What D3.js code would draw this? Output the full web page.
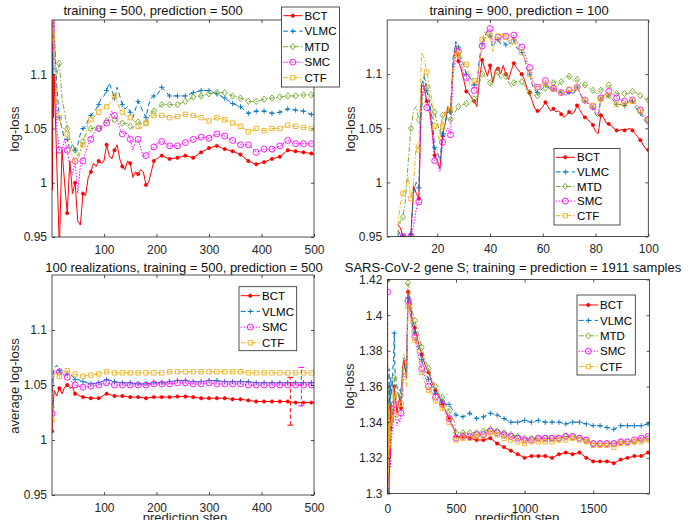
<!DOCTYPE html>
<html>
<head>
<meta charset="utf-8">
<script src="https://cdn.jsdelivr.net/npm/d3@7"></script>
<style>
body { margin: 0; background: #fff; }
svg { font-family: "Liberation Sans", Arial, Helvetica, sans-serif; }
</style>
</head>
<body>
<svg id="fig" width="694" height="520"></svg>
<script>
// ---- series styles ----
var seriesNames = ["BCT", "VLMC", "MTD", "SMC", "CTF"];
var seriesColors = ["#ff0000", "#0072bd", "#77ac30", "#ff00ff", "#edb120"];
var seriesDash = [null, "5,3", "5,2,1.5,2", "1.5,1.5", "5,2,1.5,2"];
var seriesMarker = ["dot", "plus", "diamond", "circle", "square"];

// ---- panel 1 : training = 500, prediction = 500 ----
var p1Steps = [1,2,3,4,5,10,15,20,25,30,35,40,45,50,55,60,65,70,75,80,85,90,95,100,105,110,115,120,125,130,135,140,145,150,155,160,165,170,175,180,185,190,195,200,
  210,225,240,255,270,285,300,315,330,345,360,375,390,405,420,435,450,465,480,495,500];
var p1BCT = [1.16,0.993,1.16,1.06,1.10, 1.02,0.94,1.03,1.00,0.972,1.02,0.99,1.0,0.965,0.961,0.99,0.988,1.005,1.01,1.018,1.015,1.02,1.018,1.02,1.035,1.025,1.022,1.03,1.035,1.022,1.015,1.012,1.02,1.018,1.005,1.01,1.008,1.012,1.01,0.998,1.0,1.01,1.02,1.022,
  1.025,1.022,1.023,1.025,1.023,1.028,1.032,1.034,1.031,1.029,1.026,1.02,1.017,1.019,1.022,1.024,1.03,1.029,1.028,1.027,1.026];
var p1VLMC = [1.16,1.10,1.16,1.12,1.14, 1.09,1.06,1.05,1.04,1.04,1.03,1.035,1.03,1.035,1.045,1.05,1.052,1.058,1.062,1.065,1.068,1.072,1.078,1.08,1.085,1.092,1.085,1.078,1.088,1.08,1.072,1.068,1.07,1.065,1.06,1.068,1.075,1.07,1.065,1.06,1.072,1.078,1.08,1.08,
  1.088,1.08,1.08,1.08,1.083,1.085,1.085,1.082,1.078,1.073,1.07,1.064,1.066,1.066,1.064,1.065,1.068,1.067,1.066,1.063,1.062];
var p1MTD = [1.137,1.16,1.12,1.15,1.10, 1.10,1.11,1.078,1.065,1.05,1.04,1.035,1.03,1.025,1.03,1.038,1.045,1.048,1.05,1.05,1.052,1.05,1.052,1.055,1.057,1.058,1.056,1.058,1.06,1.057,1.055,1.054,1.055,1.052,1.05,1.054,1.056,1.055,1.053,1.055,1.06,1.065,1.066,1.068,
  1.072,1.072,1.072,1.075,1.079,1.08,1.082,1.083,1.083,1.08,1.078,1.075,1.075,1.077,1.078,1.079,1.08,1.08,1.081,1.081,1.08];
var p1SMC = [1.16,1.12,1.16,1.13,1.15, 1.05,1.03,1.03,1.04,1.03,1.015,1.007,1.02,0.99,1.015,1.02,1.028,1.035,1.04,1.045,1.05,1.05,1.05,1.053,1.055,1.06,1.066,1.062,1.058,1.05,1.045,1.046,1.045,1.04,1.03,1.038,1.04,1.032,1.024,1.025,1.028,1.03,1.033,1.036,
  1.038,1.034,1.034,1.037,1.04,1.042,1.041,1.045,1.043,1.039,1.035,1.035,1.028,1.031,1.031,1.034,1.039,1.036,1.036,1.036,1.036];
var p1CTF = [1.16,1.13,1.16,1.10,1.14, 1.07,1.06,1.05,1.05,1.045,1.03,1.025,1.02,1.02,1.028,1.035,1.045,1.055,1.058,1.06,1.063,1.065,1.068,1.07,1.07,1.073,1.075,1.08,1.075,1.068,1.065,1.062,1.06,1.06,1.058,1.055,1.052,1.05,1.052,1.055,1.06,1.061,1.062,1.062,
  1.062,1.06,1.061,1.063,1.062,1.06,1.057,1.06,1.058,1.055,1.052,1.047,1.05,1.048,1.05,1.05,1.053,1.052,1.051,1.05,1.05];

// ---- panel 2 : training = 900, prediction = 100 (steps 5..100) ----
var p2Steps = d3.range(5, 101);
var p2BCT = [0.961,0.958,0.95,0.945,0.945,0.952,0.997,0.99,0.985,1.09,
  1.088,1.075,1.07,1.05,1.025,1.02,1.013,1.043,1.055,1.07,
  1.065,1.11,1.127,1.112,1.105,1.095,1.084,1.082,1.078,1.075,
  1.07,1.095,1.113,1.105,1.098,1.108,1.092,1.104,1.105,1.1,
  1.108,1.1,1.095,1.103,1.11,1.106,1.103,1.1,1.095,1.087,
  1.083,1.075,1.068,1.066,1.067,1.07,1.074,1.07,1.066,1.068,
  1.065,1.066,1.063,1.06,1.062,1.065,1.063,1.065,1.071,1.067,
  1.063,1.06,1.058,1.056,1.053,1.047,1.045,1.062,1.06,1.055,
  1.054,1.052,1.05,1.048,1.048,1.049,1.048,1.049,1.05,1.048,
  1.045,1.042,1.039,1.035,1.031,1.03];
var p2VLMC = [0.95,0.955,0.95,0.95,0.948,0.952,0.99,1.0,0.995,1.09,
  1.098,1.085,1.075,1.06,1.032,1.028,1.02,1.045,1.055,1.065,
  1.065,1.115,1.13,1.125,1.115,1.108,1.1,1.098,1.095,1.09,
  1.09,1.115,1.128,1.135,1.14,1.135,1.125,1.13,1.132,1.128,
  1.13,1.127,1.13,1.128,1.132,1.125,1.122,1.12,1.115,1.105,
  1.1,1.09,1.085,1.083,1.085,1.087,1.09,1.088,1.086,1.086,
  1.084,1.085,1.083,1.08,1.081,1.083,1.082,1.083,1.088,1.083,
  1.078,1.075,1.073,1.07,1.069,1.063,1.06,1.077,1.08,1.078,
  1.08,1.078,1.075,1.072,1.072,1.072,1.071,1.073,1.076,1.075,
  1.07,1.066,1.064,1.06,1.056,1.055];
var p2MTD = [0.952,0.965,0.968,0.985,1.02,1.05,1.067,1.07,1.058,1.06,
  1.1,1.088,1.08,1.07,1.065,1.055,1.045,1.062,1.065,1.058,
  1.058,1.062,1.066,1.07,1.071,1.072,1.073,1.072,1.075,1.077,
  1.08,1.092,1.1,1.098,1.095,1.092,1.09,1.1,1.102,1.095,
  1.1,1.098,1.093,1.088,1.092,1.093,1.093,1.093,1.09,1.085,
  1.083,1.082,1.08,1.08,1.082,1.085,1.087,1.09,1.093,1.092,
  1.093,1.09,1.093,1.095,1.098,1.098,1.095,1.093,1.095,1.092,
  1.09,1.09,1.088,1.086,1.085,1.083,1.082,1.085,1.087,1.088,
  1.09,1.087,1.085,1.082,1.082,1.081,1.082,1.082,1.083,1.084,
  1.083,1.082,1.08,1.079,1.077,1.076];
var p2SMC = [0.955,0.952,0.95,0.948,0.948,0.95,0.96,0.975,0.982,1.075,
  1.09,1.069,1.065,1.045,1.02,1.018,1.01,1.037,1.045,1.05,
  1.044,1.1,1.118,1.121,1.11,1.1,1.097,1.092,1.09,1.085,
  1.088,1.11,1.126,1.132,1.14,1.142,1.13,1.132,1.134,1.133,
  1.135,1.135,1.132,1.13,1.136,1.13,1.128,1.125,1.12,1.112,
  1.106,1.095,1.09,1.088,1.09,1.092,1.094,1.09,1.088,1.087,
  1.086,1.085,1.083,1.081,1.083,1.085,1.085,1.085,1.088,1.083,
  1.078,1.076,1.074,1.072,1.07,1.065,1.062,1.078,1.08,1.082,
  1.084,1.082,1.08,1.078,1.077,1.076,1.075,1.074,1.075,1.076,
  1.073,1.07,1.067,1.063,1.06,1.058];
var p2CTF = [0.96,0.98,0.99,0.995,1.005,0.985,1.0,1.035,1.03,1.12,
  1.115,1.102,1.09,1.075,1.052,1.045,1.038,1.052,1.065,1.07,
  1.067,1.11,1.125,1.118,1.112,1.11,1.109,1.1,1.098,1.094,
  1.09,1.11,1.132,1.14,1.135,1.136,1.121,1.13,1.135,1.13,
  1.138,1.134,1.13,1.125,1.13,1.128,1.124,1.12,1.115,1.108,
  1.1,1.092,1.088,1.088,1.09,1.09,1.091,1.089,1.087,1.086,
  1.085,1.084,1.083,1.083,1.084,1.086,1.085,1.085,1.088,1.083,
  1.079,1.076,1.074,1.073,1.071,1.064,1.06,1.077,1.08,1.081,
  1.08,1.078,1.075,1.072,1.072,1.072,1.072,1.073,1.074,1.075,
  1.072,1.069,1.066,1.062,1.059,1.057];

// ---- panel 3 : 100 realizations ----
var p3Steps = [1,3,5,10,15,20,25,30,35,40,45,50,60,75,90,105,120,135,150,165,180,195,210,225,240,255,270,285,300,315,330,345,360,375,390,405,420,435,450,465,480,495,500];
var p3BCT = [1.008,1.03,1.045,1.04,1.047,1.042,1.048,1.05,1.047,1.048,1.042,1.041,1.039,1.038,1.038,1.042,1.04,1.04,1.039,1.039,1.038,1.039,1.039,1.039,1.0395,1.0395,1.039,1.038,1.038,1.038,1.038,1.037,1.037,1.036,1.035,1.035,1.035,1.035,1.035,1.034,1.034,1.034,1.034];
var p3VLMC = [1.03,1.06,1.065,1.068,1.063,1.06,1.058,1.06,1.06,1.058,1.055,1.055,1.053,1.051,1.052,1.055,1.053,1.052,1.052,1.051,1.051,1.052,1.052,1.053,1.054,1.054,1.053,1.053,1.054,1.054,1.053,1.053,1.053,1.053,1.052,1.052,1.052,1.052,1.052,1.052,1.052,1.052,1.052];
var p3SMC = [1.024,1.05,1.063,1.06,1.062,1.058,1.06,1.057,1.055,1.052,1.05,1.049,1.048,1.049,1.05,1.052,1.05,1.05,1.05,1.05,1.05,1.051,1.051,1.051,1.052,1.052,1.051,1.051,1.052,1.051,1.051,1.051,1.051,1.05,1.05,1.05,1.05,1.05,1.05,1.05,1.05,1.05,1.05];
var p3CTF = [1.018,1.05,1.06,1.063,1.058,1.06,1.062,1.063,1.062,1.06,1.06,1.059,1.058,1.059,1.06,1.062,1.061,1.061,1.061,1.061,1.061,1.061,1.061,1.062,1.062,1.062,1.062,1.062,1.062,1.062,1.062,1.062,1.062,1.061,1.061,1.061,1.061,1.061,1.061,1.061,1.061,1.061,1.061];
var p3ErrNames = ["BCT", "SMC"];
var p3ErrStep = [455, 476];
var p3ErrLow = [1.0135, 1.031];
var p3ErrHigh = [1.057, 1.066];

// ---- panel 4 : SARS-CoV-2 gene S ----
var p4Steps = [1,3,5,7,9,12,15,18,21,25,30,35,40,45,50,55,60,70,80,90,100,110,120,130,140,150,160,170,180,
  200,225,250,275,300,325,350,375,400,425,450,475,490,500,
  550,600,650,700,750,800,850,900,950,1000,1050,1100,1150,1200,1250,1300,1350,1400,1450,1500,1550,1600,1650,1700,1750,1800,1850,1900,1911];
var p4BCT = [1.30,1.345,1.305,1.34,1.32,1.33,1.31,1.34,1.32,1.35,1.335,1.345,1.34,1.35,1.36,1.355,1.352,1.345,1.35,1.355,1.348,1.37,1.375,1.37,1.365,1.413,1.41,1.405,1.398,
  1.393,1.385,1.378,1.372,1.368,1.362,1.358,1.355,1.35,1.346,1.342,1.338,1.335,1.332,
  1.332,1.331,1.33,1.33,1.331,1.328,1.326,1.324,1.322,1.32,1.321,1.321,1.321,1.32,1.322,1.323,1.322,1.323,1.32,1.318,1.318,1.318,1.317,1.319,1.32,1.321,1.321,1.323,1.323];
var p4VLMC = [1.322,1.36,1.30,1.35,1.33,1.37,1.33,1.36,1.35,1.365,1.355,1.36,1.37,1.375,1.39,1.37,1.365,1.36,1.355,1.352,1.358,1.365,1.37,1.372,1.368,1.41,1.405,1.40,1.395,
  1.39,1.382,1.375,1.368,1.364,1.36,1.356,1.354,1.352,1.35,1.35,1.347,1.345,1.344,
  1.343,1.345,1.342,1.343,1.345,1.344,1.342,1.34,1.34,1.341,1.34,1.341,1.34,1.34,1.34,1.339,1.34,1.34,1.339,1.338,1.338,1.337,1.336,1.338,1.338,1.338,1.338,1.339,1.339];
var p4MTD = [1.42,1.30,1.36,1.32,1.35,1.33,1.35,1.325,1.34,1.33,1.345,1.34,1.35,1.355,1.365,1.36,1.358,1.352,1.35,1.352,1.355,1.37,1.378,1.375,1.37,1.418,1.415,1.41,1.403,
  1.397,1.39,1.382,1.375,1.37,1.364,1.36,1.356,1.354,1.35,1.346,1.342,1.34,1.334,
  1.334,1.334,1.334,1.335,1.336,1.335,1.334,1.333,1.332,1.331,1.331,1.331,1.331,1.331,1.331,1.332,1.332,1.331,1.33,1.328,1.328,1.328,1.328,1.329,1.329,1.329,1.33,1.331,1.331];
var p4SMC = [1.413,1.30,1.34,1.31,1.33,1.32,1.30,1.33,1.315,1.325,1.33,1.335,1.338,1.34,1.35,1.345,1.342,1.338,1.342,1.34,1.345,1.36,1.365,1.368,1.37,1.408,1.405,1.40,1.393,
  1.388,1.378,1.37,1.365,1.36,1.357,1.354,1.352,1.35,1.346,1.342,1.338,1.336,1.331,
  1.332,1.332,1.333,1.333,1.335,1.334,1.333,1.332,1.331,1.33,1.33,1.331,1.331,1.331,1.331,1.332,1.332,1.331,1.33,1.328,1.328,1.328,1.328,1.329,1.329,1.33,1.331,1.332,1.332];
var p4CTF = [1.42,1.30,1.35,1.31,1.34,1.32,1.345,1.325,1.33,1.34,1.338,1.345,1.34,1.345,1.355,1.35,1.347,1.342,1.345,1.348,1.35,1.365,1.37,1.368,1.36,1.405,1.402,1.397,1.39,
  1.386,1.376,1.368,1.362,1.358,1.355,1.352,1.35,1.348,1.344,1.34,1.337,1.335,1.33,
  1.331,1.331,1.332,1.332,1.334,1.333,1.331,1.33,1.329,1.328,1.329,1.329,1.329,1.329,1.33,1.33,1.331,1.33,1.329,1.327,1.327,1.327,1.326,1.328,1.328,1.329,1.329,1.33,1.33];

// ---- tick labels ----
var lossTicks = [0.95, 1, 1.05, 1.1];
var sarsTicks = [1.3, 1.32, 1.34, 1.36, 1.38, 1.4, 1.42];
var stepTicks500 = [100, 200, 300, 400, 500];
var stepTicks100 = [20, 40, 60, 80, 100];
var stepTicks1911 = [0, 500, 1000, 1500];

var panels = [
  { title: "training = 500, prediction = 500", tx: 153, ty: 15,
    left: 52, right: 314, top: 20, bottom: 237, xDom: [1, 500], yDom: [0.95, 1.15],
    xTicks: stepTicks500, yTicks: lossTicks, xPad: 8,
    steps: p1Steps, names: seriesNames, data: [p1BCT, p1VLMC, p1MTD, p1SMC, p1CTF],
    mark: function (s) { return s % 15 === 0; },
    ylabel: "log-loss", ylx: 19, yly: 129, xlabel: null,
    legend: { x: 281.5, y: 7, w: 58, h: 80, first: 8.7, gap: 15.5 } },
  { title: "training = 900, prediction = 100", tx: 519, ty: 15,
    left: 387.2, right: 648.3, top: 20, bottom: 236.5, xDom: [1, 100], yDom: [0.95, 1.15],
    xTicks: stepTicks100, yTicks: lossTicks, xPad: 8,
    steps: p2Steps, names: seriesNames, data: [p2BCT, p2VLMC, p2MTD, p2SMC, p2CTF],
    mark: function (s) { return (s - 1) % 3 === 0; },
    ylabel: "log-loss", ylx: 355, yly: 129, xlabel: null,
    legend: { x: 554, y: 148.5, w: 66, h: 76.5, first: 8.8, gap: 14.6 } },
  { title: "100 realizations, training = 500, prediction = 500", tx: 184, ty: 272,
    left: 52, right: 314, top: 275, bottom: 495, xDom: [1, 500], yDom: [0.95, 1.15],
    xTicks: stepTicks500, yTicks: lossTicks, xPad: 8,
    steps: p3Steps, names: ["BCT", "VLMC", "SMC", "CTF"], data: [p3BCT, p3VLMC, p3SMC, p3CTF],
    mark: function (s) { return s === 1 || s % 15 === 0; },
    ylabel: "average log-loss", ylx: 19, yly: 386, xlabel: "prediction step", xlx: 185,
    err: true,
    legend: { x: 239, y: 286.7, w: 57.7, h: 64, first: 9, gap: 15.7 } },
  { title: "SARS-CoV-2 gene S; training = prediction = 1911 samples", tx: 513, ty: 272,
    left: 387.4, right: 649.6, top: 279.5, bottom: 493.5, xDom: [0, 1911], yDom: [1.3, 1.42],
    xTicks: stepTicks1911, yTicks: sarsTicks, xPad: 11,
    steps: p4Steps, names: seriesNames, data: [p4BCT, p4VLMC, p4MTD, p4SMC, p4CTF],
    mark: function (s) { return s === 1 || s % 50 === 0; },
    ylabel: "log-loss", ylx: 354, yly: 386, xlabel: "prediction step", xlx: 517,
    legend: { x: 577, y: 295, w: 58.3, h: 80, first: 10, gap: 15.4 } }
];

var svg = d3.select("#fig");
var axisColor = "#262626";

function markerPath(type) {
  if (type === "plus") return "M-2.6,0H2.6M0,-2.6V2.6";
  if (type === "diamond") return "M0,-3.2L2.6,0L0,3.2L-2.6,0Z";
  if (type === "square") return "M-2.2,-2.2H2.2V2.2H-2.2Z";
  if (type === "circle") return d3.symbol(d3.symbolCircle, 28)();
  return d3.symbol(d3.symbolCircle, 9)();
}

function drawMarker(g, type, color, cx, cy) {
  g.append("path")
    .attr("d", markerPath(type))
    .attr("transform", "translate(" + cx + "," + cy + ")")
    .attr("fill", type === "dot" ? color : "none")
    .attr("stroke", color)
    .attr("stroke-width", type === "dot" ? 0.6 : 0.9);
}

function styleAxis(sel) {
  sel.select(".domain").remove();
  sel.selectAll("line").attr("stroke", axisColor).attr("stroke-width", 0.8);
  sel.selectAll("text").attr("fill", axisColor).style("font-size", "12px");
}

panels.forEach(function (p, pi) {
  var g = svg.append("g");
  var x = d3.scaleLinear().domain(p.xDom).range([p.left, p.right]);
  var y = d3.scaleLinear().domain(p.yDom).range([p.bottom, p.top]);

  var clipId = "clip" + pi;
  svg.append("clipPath").attr("id", clipId)
    .append("rect")
    .attr("x", p.left).attr("y", p.top)
    .attr("width", p.right - p.left).attr("height", p.bottom - p.top);

  var plot = g.append("g").attr("clip-path", "url(#" + clipId + ")");
  var line = d3.line().x(function (d) { return x(d[0]); }).y(function (d) { return y(d[1]); });

  p.names.forEach(function (name, k) {
    var si = seriesNames.indexOf(name);
    var color = seriesColors[si];
    var pts = p.steps.map(function (s, i) { return [s, p.data[k][i]]; });
    plot.append("path")
      .datum(pts)
      .attr("d", line)
      .attr("fill", "none")
      .attr("stroke", color)
      .attr("stroke-width", 1)
      .attr("stroke-dasharray", seriesDash[si]);
    var mg = plot.append("g");
    pts.filter(function (d) { return p.mark(d[0]); }).forEach(function (d) {
      drawMarker(mg, seriesMarker[si], color, x(d[0]), y(d[1]));
    });
  });

  // error bars (panel 3)
  if (p.err) {
    p3ErrNames.forEach(function (name, i) {
      var color = seriesColors[seriesNames.indexOf(name)];
      var ex = x(p3ErrStep[i]);
      var eb = plot.append("g").attr("stroke", color).attr("stroke-width", 1);
      eb.append("line").attr("x1", ex).attr("x2", ex)
        .attr("y1", y(p3ErrLow[i])).attr("y2", y(p3ErrHigh[i]))
        .attr("stroke-dasharray", "4,2.5");
      [p3ErrLow[i], p3ErrHigh[i]].forEach(function (v) {
        eb.append("line").attr("x1", ex - 3).attr("x2", ex + 3)
          .attr("y1", y(v)).attr("y2", y(v));
      });
    });
  }

  // axes (MATLAB style box with inward ticks)
  g.append("g").attr("transform", "translate(0," + p.bottom + ")")
    .call(d3.axisBottom(x).tickValues(p.xTicks).tickSize(-3).tickPadding(p.xPad).tickFormat(d3.format("d")))
    .call(styleAxis);
  g.append("g").attr("transform", "translate(0," + p.top + ")")
    .call(d3.axisTop(x).tickValues(p.xTicks).tickSize(-3).tickFormat(""))
    .call(styleAxis);
  g.append("g").attr("transform", "translate(" + p.left + ",0)")
    .call(d3.axisLeft(y).tickValues(p.yTicks).tickSize(-3).tickPadding(5).tickFormat(function (v) { return String(v); }))
    .call(styleAxis);
  g.append("g").attr("transform", "translate(" + p.right + ",0)")
    .call(d3.axisRight(y).tickValues(p.yTicks).tickSize(-3).tickFormat(""))
    .call(styleAxis);
  g.append("rect")
    .attr("x", p.left).attr("y", p.top)
    .attr("width", p.right - p.left).attr("height", p.bottom - p.top)
    .attr("fill", "none").attr("stroke", axisColor).attr("stroke-width", 0.8);

  // title and labels
  g.append("text").attr("x", p.tx).attr("y", p.ty)
    .attr("text-anchor", "middle").style("font-size", "13px").attr("fill", "#111")
    .text(p.title);
  g.append("text")
    .attr("transform", "translate(" + p.ylx + "," + p.yly + ") rotate(-90)")
    .attr("text-anchor", "middle").style("font-size", "13px").attr("fill", axisColor)
    .text(p.ylabel);
  if (p.xlabel) {
    g.append("text").attr("x", p.xlx).attr("y", 522)
      .attr("text-anchor", "middle").style("font-size", "13px").attr("fill", axisColor)
      .text(p.xlabel);
  }

  // legend
  var L = p.legend;
  var lg = g.append("g");
  lg.append("rect").attr("x", L.x).attr("y", L.y).attr("width", L.w).attr("height", L.h)
    .attr("fill", "#fff").attr("stroke", axisColor).attr("stroke-width", 0.8);
  p.names.forEach(function (name, k) {
    var si = seriesNames.indexOf(name);
    var ly = L.y + L.first + k * L.gap;
    lg.append("line").attr("x1", L.x + 1.7).attr("x2", L.x + 21)
      .attr("y1", ly).attr("y2", ly)
      .attr("stroke", seriesColors[si]).attr("stroke-width", 1)
      .attr("stroke-dasharray", seriesDash[si]);
    drawMarker(lg, seriesMarker[si], seriesColors[si], L.x + 11.3, ly);
    lg.append("text").attr("x", L.x + 23).attr("y", ly).attr("dy", "0.36em")
      .style("font-size", "11.5px").attr("fill", "#000").text(name);
  });
});
</script>
</body>
</html>
